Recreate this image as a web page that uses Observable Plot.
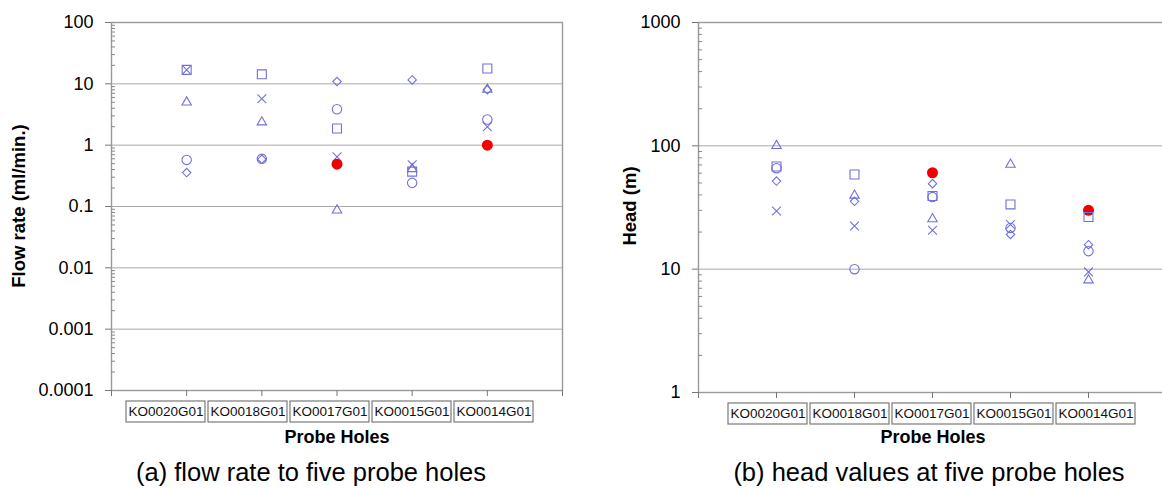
<!DOCTYPE html>
<html><head><meta charset="utf-8">
<script src="https://cdn.jsdelivr.net/npm/d3@7"></script>
<script src="https://cdn.jsdelivr.net/npm/@observablehq/plot@0.6"></script>
<style>
html,body{margin:0;padding:0;background:#fff;overflow:hidden;width:1162px;height:488px}
#wrap{position:relative;width:1162px;height:488px;overflow:hidden;font-family:"Liberation Sans",Arial,sans-serif;color:#000}
#wrap svg{position:absolute;overflow:visible}
.ytitle{position:absolute;font-weight:bold;font-size:18.5px;white-space:nowrap;transform:translate(-50%,-50%) rotate(-90deg)}
.xtitle{position:absolute;font-weight:bold;font-size:18px;transform:translate(-50%,-50%);white-space:nowrap}
.caption{position:absolute;font-size:25.5px;transform:translate(-50%,-50%);white-space:nowrap}
</style></head>
<body><div id="wrap"></div>
<script>
// ---- data ----
const holes = ["KO0020G01", "KO0018G01", "KO0017G01", "KO0015G01", "KO0014G01"];

// (a) flow rate (ml/min.)
const flowSquare   = [16.9, 14.3, 1.87, 0.37, 17.8];
const flowCross    = [16.9, 5.7, 0.645, 0.477, 2.0];
const flowTriangle = [5.0, 2.37, 0.087, 0.41, 8.07];
const flowCircle   = [0.575, 0.598, 3.85, 0.243, 2.62];
const flowDiamond  = [0.357, 0.59, 10.9, 11.6, 8.0];
const flowRed      = [null, null, 0.49, null, 1.0];

// (b) head (m)
const headSquare   = [68, 58.6, 39.2, 33.5, 26.5];
const headCross    = [29.6, 22.4, 20.7, 23, 9.5];
const headTriangle = [100, 39.6, 25.5, 70.6, 8.15];
const headCircle   = [65.9, 10, 38.4, 21.6, 14];
const headDiamond  = [51.8, 35.5, 49.3, 19.1, 15.8];
const headRed      = [null, null, 60.5, null, 30];

const flowTicks = [0.0001, 0.001, 0.01, 0.1, 1, 10, 100];
const flowTickLabels = ["0.0001", "0.001", "0.01", "0.1", "1", "10", "100"];
const headTicks = [1, 10, 100, 1000];
const headTickLabels = ["1", "10", "100", "1000"];

const texts = {
  a: {ytitle: "Flow rate (ml/min.)", xtitle: "Probe Holes", caption: "(a) flow rate to five probe holes"},
  b: {ytitle: "Head (m)", xtitle: "Probe Holes", caption: "(b) head values at five probe holes"}
};

// ---- drawing ----
const wrap = document.getElementById("wrap");
const BLUE = "#7070dc";
const FONT = "'Liberation Sans', Arial, sans-serif";

function rows(vals) {
  return holes.map((h, i) => ({hole: h, x: i + 1, v: vals[i]})).filter(d => d.v != null);
}
function minorTicks(ticks) {
  const out = [];
  for (let i = 0; i < ticks.length - 1; i++) for (let k = 2; k <= 9; k++) out.push(ticks[i] * k);
  return out;
}

function chart(cfg) {
  const {left, width, marginLeft, marginRight, ticks, labels, series, boxRange, boxTop, t} = cfg;
  const H = 402, bottom = cfg.bottom;
  const fmt = d => { const i = ticks.indexOf(d); return i >= 0 ? labels[i] : ""; };
  const dots = [
    Plot.dot(rows(series.cross), {x: "x", y: "v", symbol: "times", r: 4.1, stroke: BLUE, strokeWidth: 1.1, fill: "none"}),
    Plot.dot(rows(series.red), {x: "x", y: "v", symbol: "circle", r: 5.5, fill: "#f00000", stroke: "none"}),
    Plot.dot(rows(series.square), {x: "x", y: "v", symbol: "square2", r: 5.7, stroke: BLUE, strokeWidth: 1.1, fill: "none"}),
    Plot.dot(rows(series.triangle), {x: "x", y: "v", symbol: "triangle2", r: 4.5, stroke: BLUE, strokeWidth: 1.1, fill: "none"}),
    Plot.dot(rows(series.circle), {x: "x", y: "v", symbol: "circle", r: 4.7, stroke: BLUE, strokeWidth: 1.1, fill: "none"}),
    Plot.dot(rows(series.diamond), {x: "x", y: "v", symbol: "diamond2", r: 3.8, stroke: BLUE, strokeWidth: 1.1, fill: "none"})
  ];
  const main = Plot.plot({
    width, height: H,
    marginLeft, marginRight, marginTop: 22, marginBottom: H - bottom,
    x: {type: "linear", domain: [0, 6], axis: null},
    y: {type: "log", domain: [ticks[0], ticks[ticks.length - 1]], axis: null},
    style: {fontFamily: FONT, fontSize: "18px", color: "#000", background: "transparent", overflow: "visible"},
    marks: [
      Plot.gridY(ticks, {stroke: "#a9a9a9", strokeOpacity: 1}),
      Plot.frame({stroke: "#9a9a9a", strokeWidth: 1.4}),
      Plot.axisY(ticks, {anchor: "left", tickSize: 6, tickPadding: 12, tickFormat: fmt, stroke: "#777", fontSize: 18, label: null}),
      Plot.axisY(minorTicks(ticks), {anchor: "left", tickSize: -4, tickFormat: () => "", stroke: "#888", label: null}),
      Plot.axisX(d3.range(7), {anchor: "bottom", tickSize: 6, tickFormat: () => "", stroke: "#777", label: null}),
      ...dots
    ]
  });
  main.style.left = left + "px";
  main.style.top = "0px";
  wrap.appendChild(main);

  const box = Plot.plot({
    width, height: 24, marginTop: 1, marginBottom: 2, marginLeft: 0, marginRight: 0,
    x: {type: "band", domain: holes, range: boxRange, paddingInner: 0.035, paddingOuter: 0, axis: null},
    style: {fontFamily: FONT, fontSize: "13.5px", color: "#000", background: "transparent"},
    marks: [
      Plot.cell(holes, {x: d => d, fill: "white", stroke: "#7a7a7a", strokeWidth: 1.2}),
      Plot.text(holes, {x: d => d, text: d => d, fontSize: 13.5, fill: "#111"})
    ]
  });
  box.style.left = left + "px";
  box.style.top = boxTop + "px";
  wrap.appendChild(box);

  const yt = document.createElement("div");
  yt.className = "ytitle"; yt.textContent = t.ytitle;
  yt.style.left = cfg.ytitleX + "px"; yt.style.top = "206px";
  wrap.appendChild(yt);
  const xt = document.createElement("div");
  xt.className = "xtitle"; xt.textContent = t.xtitle;
  xt.style.left = cfg.xtitleX + "px"; xt.style.top = "437px";
  wrap.appendChild(xt);
  const cap = document.createElement("div");
  cap.className = "caption"; cap.textContent = t.caption;
  cap.style.left = cfg.captionX + "px"; cap.style.top = "472px";
  wrap.appendChild(cap);
}

chart({
  left: 0, width: 580, marginLeft: 111, marginRight: 18, bottom: 390,
  ticks: flowTicks, labels: flowTickLabels,
  series: {square: flowSquare, cross: flowCross, triangle: flowTriangle, circle: flowCircle, diamond: flowDiamond, red: flowRed},
  boxRange: [125, 535], boxTop: 400, t: texts.a,
  ytitleX: 19, xtitleX: 337, captionX: 311
});
chart({
  left: 580, width: 600, marginLeft: 118, marginRight: 14, bottom: 392,
  ticks: headTicks, labels: headTickLabels,
  series: {square: headSquare, cross: headCross, triangle: headTriangle, circle: headCircle, diamond: headDiamond, red: headRed},
  boxRange: [147, 557], boxTop: 402, t: texts.b,
  ytitleX: 630, xtitleX: 933, captionX: 929
});
</script>
</body></html>
